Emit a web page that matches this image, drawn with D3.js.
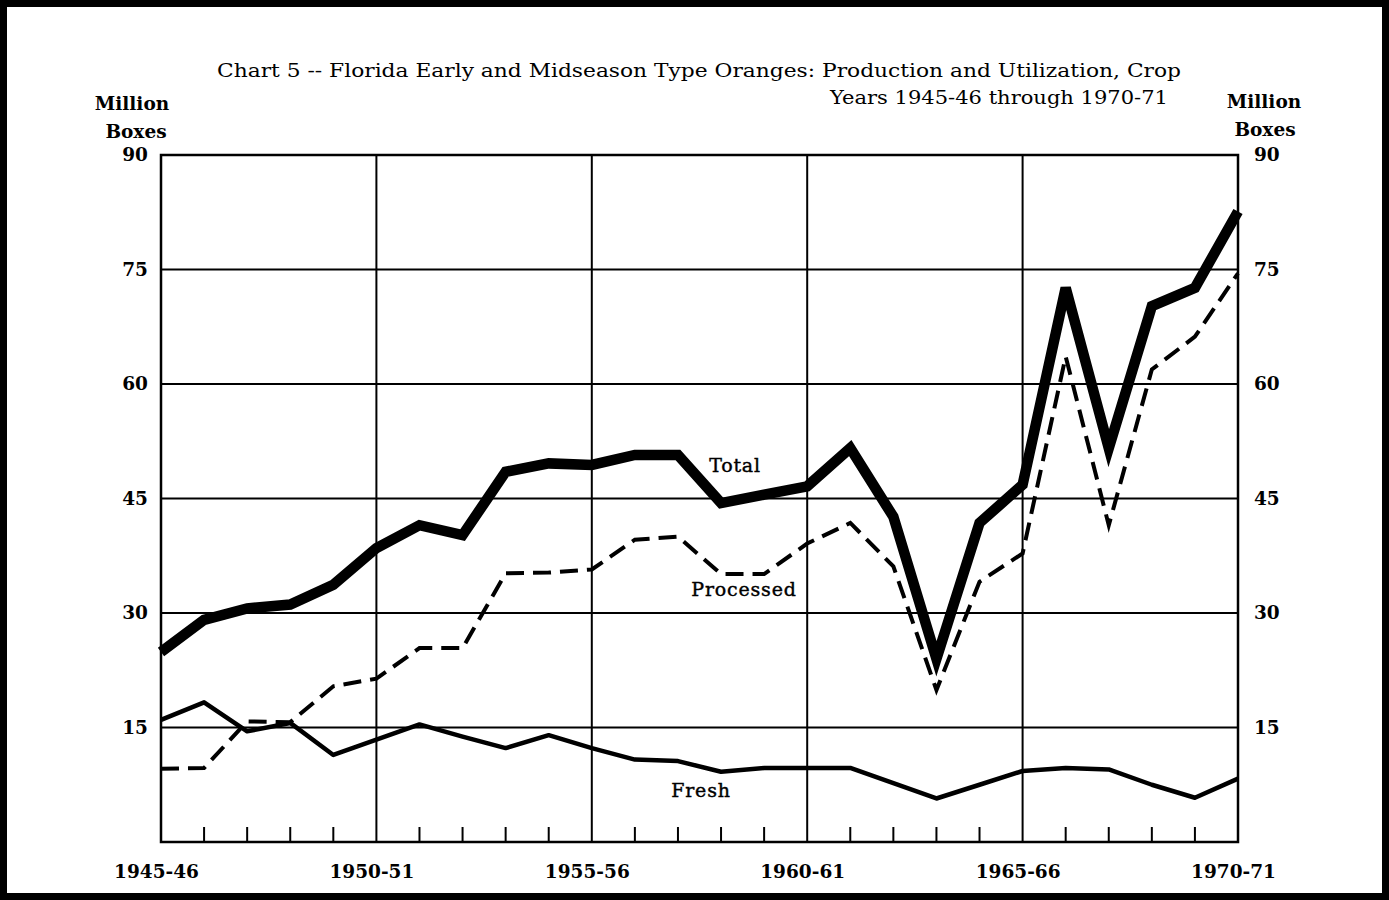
<!DOCTYPE html>
<html>
<head>
<meta charset="utf-8">
<script src="https://cdn.jsdelivr.net/npm/d3@7"></script>
<style>
  html, body { margin: 0; padding: 0; background: #fff; }
  svg { display: block; }
  text { font-family: "DejaVu Serif", serif; fill: #000; }
</style>
</head>
<body>
<div id="chart"></div>
<script>
// crop years, 1945-46 .. 1970-71
const seasons = ["1945-46","1946-47","1947-48","1948-49","1949-50","1950-51","1951-52","1952-53",
  "1953-54","1954-55","1955-56","1956-57","1957-58","1958-59","1959-60","1960-61","1961-62",
  "1962-63","1963-64","1964-65","1965-66","1966-67","1967-68","1968-69","1969-70","1970-71"];

// million boxes
const total = [24.9, 29.1, 30.6, 31.1, 33.7, 38.5, 41.5, 40.2, 48.5, 49.6, 49.4, 50.7, 50.7,
  44.4, 45.5, 46.6, 51.6, 42.6, 24.0, 41.8, 46.8, 72.6, 51.6, 70.2, 72.6, 82.6];
const processed = [9.6, 9.7, 15.8, 15.7, 20.4, 21.4, 25.4, 25.4, 35.2, 35.3, 35.7, 39.6, 40.0,
  35.1, 35.1, 39.1, 41.8, 36.1, 19.9, 34.1, 37.8, 63.6, 41.5, 61.9, 66.2, 74.5];
const fresh = [16.0, 18.3, 14.5, 15.6, 11.4, 13.4, 15.4, 13.8, 12.3, 14.0, 12.3, 10.8, 10.6,
  9.2, 9.7, 9.7, 9.7, 7.7, 5.7, 7.5, 9.3, 9.7, 9.5, 7.5, 5.8, 8.3];

const yTicks = [15, 30, 45, 60, 75, 90];
const xLabels = ["1945-46", "1950-51", "1955-56", "1960-61", "1965-66", "1970-71"];

const W = 1389, H = 900;
const pL = 161, pR = 1238, pT = 155, pB = 842;

const svg = d3.select("#chart").append("svg")
  .attr("width", W).attr("height", H);

// outer frame of the page
svg.append("rect")
  .attr("x", 3.5).attr("y", 3.5)
  .attr("width", W - 7).attr("height", H - 7)
  .attr("fill", "none").attr("stroke", "#000").attr("stroke-width", 7);

const x = d3.scalePoint().domain(seasons).range([pL, pR]);
const y = d3.scaleLinear().domain([0, 90]).range([pB, pT]);

// title
svg.append("text")
  .attr("x", 217).attr("y", 77)
  .attr("textLength", 964).attr("lengthAdjust", "spacingAndGlyphs")
  .style("font-size", "18px")
  .text("Chart 5 -- Florida Early and Midseason Type Oranges:  Production and Utilization, Crop");
svg.append("text")
  .attr("x", 830).attr("y", 104)
  .attr("textLength", 338).attr("lengthAdjust", "spacingAndGlyphs")
  .style("font-size", "18px")
  .text("Years 1945-46 through 1970-71");

// unit labels
const unit = [[132, 110, "Million"], [136, 138, "Boxes"], [1264, 108, "Million"], [1265, 136, "Boxes"]];
svg.selectAll("text.unit").data(unit).join("text")
  .attr("class", "unit")
  .attr("x", d => d[0]).attr("y", d => d[1])
  .attr("text-anchor", "middle")
  .style("font-size", "18.5px").style("font-weight", "bold")
  .text(d => d[2]);

// grid
const grid = svg.append("g").attr("stroke", "#000").attr("stroke-width", 2);
grid.selectAll("line.h").data(yTicks.filter(v => v < 90)).join("line")
  .attr("x1", pL).attr("x2", pR)
  .attr("y1", d => y(d)).attr("y2", d => y(d));
grid.selectAll("line.v").data(xLabels.slice(1, -1)).join("line")
  .attr("x1", d => x(d)).attr("x2", d => x(d))
  .attr("y1", pT).attr("y2", pB);

// small year ticks on the bottom edge
grid.selectAll("line.t").data(seasons.filter(s => !xLabels.includes(s))).join("line")
  .attr("x1", d => x(d)).attr("x2", d => x(d))
  .attr("y1", pB).attr("y2", pB - 15);

svg.append("rect")
  .attr("x", pL).attr("y", pT)
  .attr("width", pR - pL).attr("height", pB - pT)
  .attr("fill", "none").attr("stroke", "#000").attr("stroke-width", 2.5);

// axes (labels only)
const tickFont = g => g.call(s => s.select(".domain").remove())
  .selectAll("text").style("font-family", "DejaVu Serif, serif")
  .style("font-size", "18.5px").style("font-weight", "bold").attr("fill", "#000");

svg.append("g").attr("transform", `translate(${pL},0)`)
  .call(d3.axisLeft(y).tickValues(yTicks).tickSize(0).tickPadding(13))
  .call(tickFont);
svg.append("g").attr("transform", `translate(${pR},0)`)
  .call(d3.axisRight(y).tickValues(yTicks).tickSize(0).tickPadding(16))
  .call(tickFont);
svg.append("g").attr("transform", `translate(-5,${pB})`)
  .call(d3.axisBottom(x).tickValues(xLabels).tickSize(0).tickPadding(23))
  .call(tickFont);

// series
const line = d3.line().x((d, i) => x(seasons[i])).y(d => y(d));

svg.append("path").datum(fresh)
  .attr("d", line).attr("fill", "none").attr("stroke", "#000")
  .attr("stroke-width", 4.5).attr("stroke-linejoin", "round");

svg.append("path").datum(processed)
  .attr("d", line).attr("fill", "none").attr("stroke", "#000")
  .attr("stroke-width", 4).attr("stroke-dasharray", "18,9");

svg.append("path").datum(total)
  .attr("d", line).attr("fill", "none").attr("stroke", "#000")
  .attr("stroke-width", 10.5).attr("stroke-linejoin", "miter");

// series labels
const seriesLabels = [[735, 472, "Total"], [744, 596, "Processed"], [701, 797, "Fresh"]];
svg.selectAll("text.lab").data(seriesLabels).join("text")
  .attr("class", "lab")
  .attr("x", d => d[0]).attr("y", d => d[1])
  .attr("text-anchor", "middle")
  .style("font-size", "19px").style("letter-spacing", "0.8px")
  .style("stroke", "#000").style("stroke-width", 0.4)
  .text(d => d[2]);
</script>
</body>
</html>
